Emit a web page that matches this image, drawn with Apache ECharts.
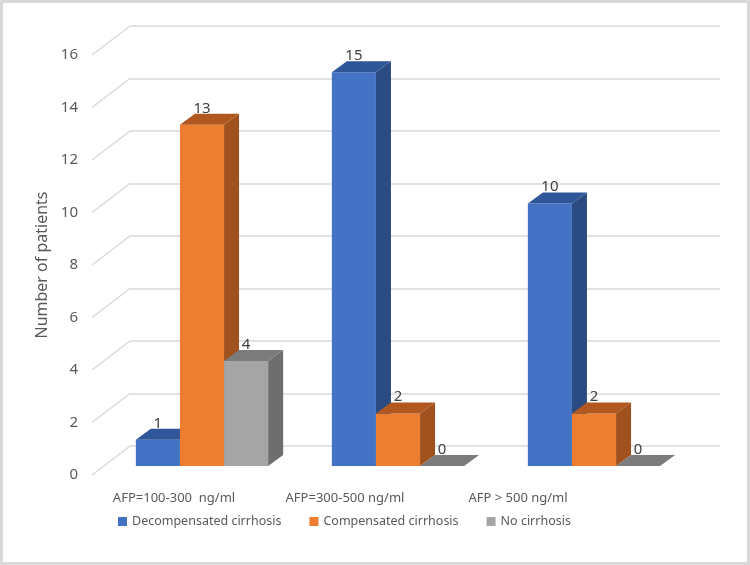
<!DOCTYPE html>
<html>
<head>
<meta charset="utf-8">
<script src="https://cdn.jsdelivr.net/npm/echarts@6/dist/echarts.min.js"></script>
<style>
  html, body { margin: 0; padding: 0; background: #fff; }
  #main { width: 750px; height: 565px; }
</style>
</head>
<body>
<div id="main"></div>
<script>
// data
var categories = ['AFP=100-300  ng/ml', 'AFP=300-500 ng/ml', 'AFP > 500 ng/ml'];
var seriesNames = ['Decompensated cirrhosis', 'Compensated cirrhosis', 'No cirrhosis'];
var decompensated = [1, 15, 10];
var compensated = [13, 2, 2];
var noCirrhosis = [4, 0, 0];
var yTicks = [0, 2, 4, 6, 8, 10, 12, 14, 16];

// fake 3d: three planes (front edge, bar plane, back wall)
var FRONT = { left: 92, top: 55, width: 590, height: 420 };
var BARS = { left: 104, top: 46, width: 588, height: 420 };
var BACK = { left: 130, top: 26, width: 590, height: 420 };
var WALL_DX = BACK.left - FRONT.left;
var WALL_DY = BACK.top - FRONT.top;
var BAR_DX = 15, BAR_DY = -11;
var BAR_RATIO = 0.225;

var faces = [
  { front: '#4472C4', side: '#2B4B83', top: '#30569A' },
  { front: '#ED7D31', side: '#A1511D', top: '#B05820' },
  { front: '#A5A5A5', side: '#6E6E6E', top: '#7C7C7C' }
];

// x labels sit a bit left of the band centre (perspective in the original)
var labelShift = [56, 106, 152];

function barRenderer(idx) {
  return function (params, api) {
    var cat = api.value(0);
    var val = api.value(1);
    var c = api.coord([cat, val]);
    var base = api.coord([cat, 0]);
    var band = api.size([1, 0])[0];
    var w = band * BAR_RATIO;
    var x0 = c[0] - 1.5 * w + idx * w;
    var x1 = x0 + w;
    var top = c[1], bot = base[1];
    var f = faces[idx];
    return {
      type: 'group',
      children: [
        { type: 'rect', shape: { x: x0, y: top, width: w, height: bot - top }, style: { fill: f.front } },
        { type: 'polygon', shape: { points: [[x1, top], [x1 + BAR_DX, top + BAR_DY], [x1 + BAR_DX, bot + BAR_DY], [x1, bot]] }, style: { fill: f.side } },
        { type: 'polygon', shape: { points: [[x0, top], [x0 + BAR_DX, top + BAR_DY], [x1 + BAR_DX, top + BAR_DY], [x1, top]] }, style: { fill: f.top } },
        { type: 'text', x: (x0 + x1) / 2, y: top + BAR_DY + 2,
          style: { text: String(val), fill: '#404040', font: '15px "Noto Sans"', align: 'center', verticalAlign: 'bottom' } }
      ]
    };
  };
}

function toPairs(arr) {
  return arr.map(function (v, i) { return [i, v]; });
}

var chart = echarts.init(document.getElementById('main'));

var option = {
  animation: false,
  textStyle: { fontFamily: '"Noto Sans", sans-serif' },
  graphic: [{
    type: 'rect', shape: { x: 1.5, y: 1.5, width: 747, height: 562 },
    style: { fill: 'none', stroke: '#d9d9d9', lineWidth: 3 }, silent: true
  }],
  grid: [
    { left: BARS.left, top: BARS.top, width: BARS.width, height: BARS.height },
    { left: FRONT.left, top: FRONT.top, width: FRONT.width, height: FRONT.height },
    { left: BACK.left, top: BACK.top, width: BACK.width, height: BACK.height }
  ],
  xAxis: [
    {
      gridIndex: 0, type: 'category',
      data: categories.map(function (c, i) {
        return { value: c, textStyle: { padding: [0, labelShift[i], 0, 0] } };
      }),
      axisLine: { show: false }, axisTick: { show: false },
      axisLabel: { interval: 0, margin: 26, color: '#595959', fontSize: 13 }
    },
    { gridIndex: 1, type: 'value', min: 0, max: 1, show: false },
    { gridIndex: 2, type: 'value', min: 0, max: 1, show: false }
  ],
  yAxis: [
    { gridIndex: 0, type: 'value', min: 0, max: 16, interval: 2, show: false },
    {
      gridIndex: 1, type: 'value', min: 0, max: 16, interval: 2,
      name: 'Number of patients', nameLocation: 'middle', nameGap: 42,
      nameTextStyle: { color: '#595959', fontSize: 16 },
      axisLine: { show: false }, axisTick: { show: false }, splitLine: { show: false },
      axisLabel: { margin: 14, color: '#595959', fontSize: 15 }
    },
    {
      gridIndex: 2, type: 'value', min: 0, max: 16, interval: 2,
      axisLine: { show: false }, axisTick: { show: false }, axisLabel: { show: false },
      splitLine: { lineStyle: { color: '#d9d9d9', width: 1.5 } }
    }
  ],
  legend: {
    data: seriesNames,
    left: 113, top: 510,
    icon: 'rect', itemWidth: 9, itemHeight: 9, itemGap: 28,
    textStyle: { color: '#595959', fontSize: 12.5 }
  },
  series: [
    {
      // side walls of the floor/back grid
      type: 'custom', xAxisIndex: 1, yAxisIndex: 1, silent: true,
      data: yTicks.map(function (v) { return [0, v]; }),
      renderItem: function (params, api) {
        var p = api.coord([0, api.value(1)]);
        return {
          type: 'line',
          shape: { x1: p[0], y1: p[1], x2: p[0] + WALL_DX, y2: p[1] + WALL_DY },
          style: { stroke: '#d9d9d9', lineWidth: 1.5 }
        };
      }
    },
    { name: seriesNames[0], type: 'custom', xAxisIndex: 0, yAxisIndex: 0, itemStyle: { color: faces[0].front },
      data: toPairs(decompensated), renderItem: barRenderer(0) },
    { name: seriesNames[1], type: 'custom', xAxisIndex: 0, yAxisIndex: 0, itemStyle: { color: faces[1].front },
      data: toPairs(compensated), renderItem: barRenderer(1) },
    { name: seriesNames[2], type: 'custom', xAxisIndex: 0, yAxisIndex: 0, itemStyle: { color: faces[2].front },
      data: toPairs(noCirrhosis), renderItem: barRenderer(2) }
  ]
};

chart.setOption(option);
</script>
</body>
</html>
